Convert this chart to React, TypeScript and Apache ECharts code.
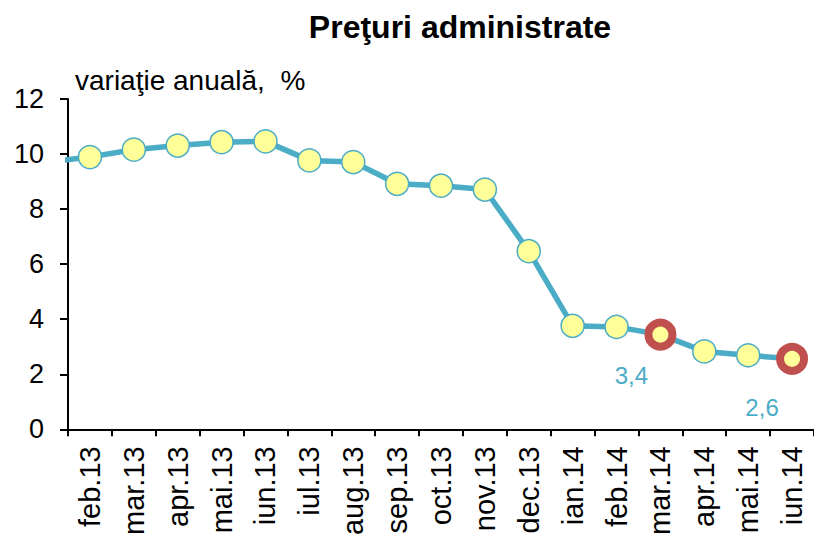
import React, { useEffect, useRef } from "react";
import * as echarts from "echarts";

const categories = [
  "feb.13", "mar.13", "apr.13", "mai.13", "iun.13", "iul.13", "aug.13", "sep.13",
  "oct.13", "nov.13", "dec.13", "ian.14", "feb.14", "mar.14", "apr.14", "mai.14", "iun.14",
];
// previous month (ian.13), drawn only as the line entering from the left edge
const previousValue = 9.7;
const values = [
  9.89, 10.16, 10.31, 10.43, 10.46, 9.77, 9.71, 8.92, 8.85, 8.71, 6.47, 3.76, 3.72, 3.44, 2.83, 2.69, 2.56,
];
const highlighted: Record<number, string> = { 13: "3,4", 16: "2,6" };
const yTicks = { min: 0, max: 12, interval: 2 };
const titleText = "Preţuri administrate";
const unitText = "variaţie anuală,  %";

const FONT = "Liberation Sans, Arial, sans-serif";
const LINE = "#4BACC6";
const RED = "#C0504D";
const YELLOW = "#FFFF99";

export default function App() {
  const ref = useRef<HTMLDivElement>(null);
  useEffect(() => {
    document.body.style.margin = "0";
    const chart = echarts.init(ref.current!, null, { renderer: "svg" });
    const lineData: any[] = [[-1, previousValue]];
    values.forEach((v, i) => {
      if (highlighted[i] !== undefined) {
        lineData.push({
          value: [i, v],
          symbolSize: 24,
          itemStyle: { color: YELLOW, borderColor: RED, borderWidth: 8 },
          label: {
            show: true,
            formatter: highlighted[i],
            position: "bottom",
            offset: i === 13 ? [-29, 8] : [-30, 16],
            color: LINE,
            fontSize: 24,
            fontFamily: FONT,
          },
        });
      } else {
        lineData.push([i, v]);
      }
    });
    chart.setOption({
      animation: false,
      title: {
        text: titleText,
        left: 455,
        top: 6,
        textAlign: "center",
        textStyle: { fontFamily: FONT, fontWeight: "bold", fontSize: 32, color: "#000" },
      },
      graphic: [
        {
          type: "text",
          left: 75,
          top: 66,
          style: { text: unitText, font: `28px ${FONT}`, fill: "#000" },
        },
      ],
      grid: { left: 68, top: 99, width: 748, height: 331 },
      xAxis: [
        {
          type: "category",
          data: categories,
          boundaryGap: true,
          axisLine: { lineStyle: { color: "#000", width: 2 } },
          axisTick: { show: true, length: 7, lineStyle: { color: "#000", width: 2 }, interval: 0 },
          axisLabel: {
            interval: 0,
            rotate: 90,
            margin: 17,
            color: "#000",
            fontSize: 29,
            fontFamily: FONT,
          },
          splitLine: { show: false },
        },
        {
          type: "value",
          min: -0.5,
          max: 16.5,
          show: false,
        },
      ],
      yAxis: {
        type: "value",
        min: yTicks.min,
        max: yTicks.max,
        interval: yTicks.interval,
        axisLine: { show: true, onZero: false, lineStyle: { color: "#000", width: 2 } },
        axisTick: { show: true, length: 8, lineStyle: { color: "#000", width: 2 } },
        axisLabel: { color: "#000", fontSize: 27, fontFamily: FONT, margin: 24 },
        splitLine: { show: false },
      },
      series: [
        {
          type: "line",
          xAxisIndex: 1,
          data: lineData,
          clip: true,
          lineStyle: { color: LINE, width: 5.5 },
          symbol: "circle",
          symbolSize: 23,
          showAllSymbol: true,
          itemStyle: { color: YELLOW, borderColor: LINE, borderWidth: 1.5 },
          z: 3,
        },
      ],
    });
    return () => chart.dispose();
  }, []);
  return <div ref={ref} style={{ width: 814, height: 538, position: "absolute", left: 0, top: 0 }} />;
}
